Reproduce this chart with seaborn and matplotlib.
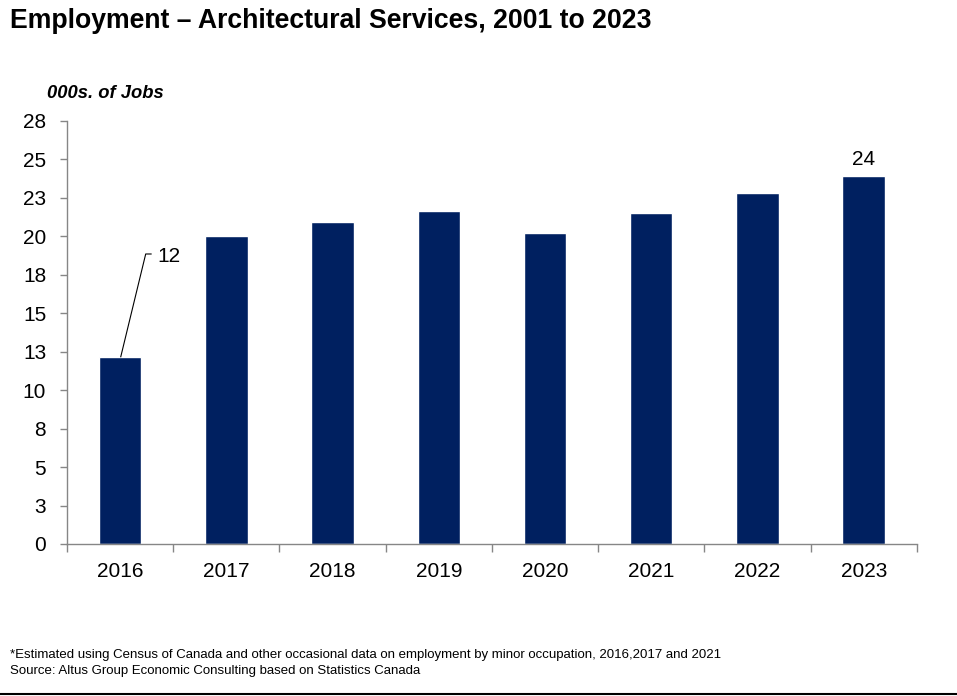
import matplotlib
matplotlib.use("Agg")
import matplotlib.pyplot as plt
from matplotlib.lines import Line2D
import seaborn as sns
import pandas as pd

# Employment in architectural services, thousands of jobs
years = ["2016", "2017", "2018", "2019", "2020", "2021", "2022", "2023"]
jobs = [12.13, 20.0, 20.9, 21.65, 20.2, 21.5, 22.8, 23.9]

y_ticks = [0, 2.5, 5, 7.5, 10, 12.5, 15, 17.5, 20, 22.5, 25, 27.5]
y_tick_labels = ["0", "3", "5", "8", "10", "13", "15", "18", "20", "23", "25", "28"]

title = "Employment \u2013 Architectural Services, 2001 to 2023"
unit_label = "000s. of Jobs"
footnote = ("*Estimated using Census of Canada and other occasional data on employment "
            "by minor occupation, 2016,2017 and 2021")
source = "Source: Altus Group Economic Consulting based on Statistics Canada"

sns.set_theme(style="white")
plt.rcParams["font.family"] = ["Liberation Sans", "DejaVu Sans"]
plt.rcParams["text.color"] = "black"
plt.rcParams["xtick.color"] = "black"
plt.rcParams["ytick.color"] = "black"

bar_color = "#002060"
axis_color = "#868686"
label_size = 15

df = pd.DataFrame({"year": years, "jobs": jobs})

fig = plt.figure(figsize=(9.57, 6.96), dpi=100)
ax = fig.add_axes([0.070, 0.2184, 0.888, 0.6082])

sns.barplot(data=df, x="year", y="jobs", color=bar_color, width=0.4,
            saturation=1, ax=ax)

ax.set_xlim(-0.5, len(years) - 0.5)
ax.set_ylim(0, 27.5)
ax.set_yticks(y_ticks)
ax.set_yticklabels(y_tick_labels)
ax.set_xlabel("")
ax.set_ylabel("")

for side in ("top", "right"):
    ax.spines[side].set_visible(False)
for side in ("left", "bottom"):
    ax.spines[side].set_color(axis_color)
    ax.spines[side].set_linewidth(1.0)

ax.tick_params(axis="y", which="major", direction="out", length=5, width=1,
               color=axis_color, labelcolor="black", labelsize=label_size,
               pad=10, left=True)
ax.tick_params(axis="x", which="major", length=0, labelsize=label_size,
               labelcolor="black", pad=13)
ax.set_xticks([i + 0.5 for i in range(-1, len(years))], minor=True)
ax.tick_params(axis="x", which="minor", direction="out", length=6, width=1,
               color=axis_color, bottom=True)

# Leader-line label for the first bar
first = jobs[0]
ax.plot([0.005, 0.241, 0.297], [first, 18.84, 18.84], color="black", lw=0.8,
        solid_capstyle="butt")
ax.text(0.35, 18.7, f"{round(first)}", fontsize=label_size, va="center", ha="left")

# Value label above the last bar
last = jobs[-1]
ax.annotate(f"{round(last)}", xy=(len(years) - 1, last), xytext=(0, 5),
            textcoords="offset points", ha="center", va="bottom", fontsize=label_size)

fig.text(0.0105, 0.970, title, fontsize=19.2, fontweight="bold", ha="left", va="center")
fig.text(0.049, 0.865, unit_label, fontsize=13.2, fontweight="bold", style="italic",
         ha="left", va="center")
fig.text(0.0105, 0.059, footnote, fontsize=9.5, ha="left", va="center")
fig.text(0.0105, 0.036, source, fontsize=9.5, ha="left", va="center")

fig.add_artist(Line2D([0, 1], [0.003, 0.003], transform=fig.transFigure,
                      color="black", lw=1.5))

fig.savefig("out.png", dpi=100)
